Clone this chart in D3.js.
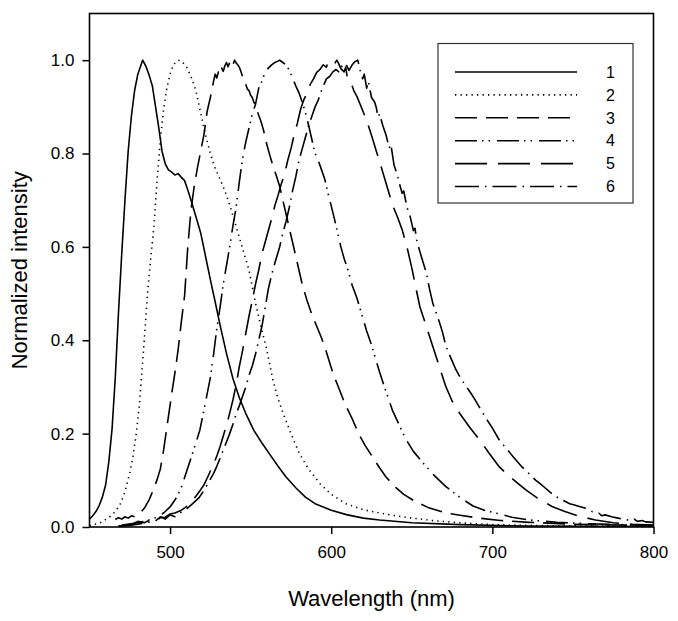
<!DOCTYPE html>
<html>
<head>
<meta charset="utf-8">
<script src="https://cdn.jsdelivr.net/npm/d3@7"></script>
<style>
  html, body { margin: 0; padding: 0; background: #fff; }
  svg { display: block; font-family: "Liberation Sans", Arial, sans-serif; }
</style>
</head>
<body>
<svg id="chart" width="678" height="621"></svg>
<script>
// ---------------- DATA ----------------
const xTicks = [500, 600, 700, 800];
const yTicks = [0, 0.2, 0.4, 0.6, 0.8, 1.0];
const seriesNames = ["1", "2", "3", "4", "5", "6"];

const series1 = [[450,0.017],[452,0.024],[454,0.033],[456,0.046],[458,0.064],[460,0.09],[462,0.14],[464,0.21],[466,0.32],[468,0.46],[470,0.585],[472,0.70],[474,0.805],[476,0.88],[478,0.935],[480,0.97],[482,0.99],[483,1.0],[485,0.987],[487,0.968],[489,0.945],[491,0.9],[493,0.855],[495,0.805],[497,0.778],[499,0.765],[501,0.76],[503,0.754],[505,0.757],[507,0.749],[509,0.742],[511,0.722],[513,0.7],[516,0.665],[519,0.63],[522,0.58],[525,0.53],[528,0.482],[531,0.433],[535,0.372],[539,0.318],[543,0.277],[547,0.243],[552,0.207],[557,0.18],[562,0.155],[567,0.13],[572,0.107],[578,0.084],[584,0.064],[590,0.05],[600,0.036],[610,0.026],[620,0.019],[630,0.015],[650,0.009],[680,0.005],[720,0.002],[800,0.001]];

const series2 = [[450,0.003],[456,0.008],[462,0.02],[466,0.033],[469,0.048],[472,0.075],[475,0.116],[477,0.152],[479,0.2],[481,0.262],[482,0.31],[484,0.4],[486,0.5],[488,0.575],[490,0.645],[492,0.745],[494,0.83],[496,0.895],[498,0.94],[500,0.97],[502,0.99],[505,1.0],[507,0.998],[510,0.987],[513,0.965],[516,0.935],[519,0.887],[522,0.84],[525,0.8],[528,0.768],[531,0.745],[534,0.72],[537,0.69],[540,0.655],[543,0.62],[546,0.585],[549,0.55],[553,0.48],[556,0.435],[560,0.38],[564,0.312],[567,0.275],[570,0.245],[575,0.2],[580,0.159],[586,0.124],[593,0.093],[600,0.07],[609,0.05],[620,0.037],[630,0.03],[640,0.024],[650,0.019],[665,0.013],[680,0.009],[700,0.005],[730,0.003],[800,0.001]];

const series3 = [[466,0.016],[468,0.02],[470,0.017],[472,0.022],[474,0.019],[476,0.024],[478,0.022],[480,0.028],[482,0.032],[484,0.04],[487,0.058],[490,0.083],[492,0.102],[494,0.125],[496,0.165],[498.5,0.225],[501,0.285],[503,0.33],[505,0.38],[507,0.44],[509,0.495],[511,0.6],[513,0.68],[515,0.73],[517,0.77],[519,0.805],[521,0.84],[523,0.89],[525,0.92],[527,0.955],[528,0.97],[529,0.962],[530,0.975],[531,0.97],[532,0.983],[533,0.976],[534,0.988],[535,0.995],[536,0.986],[537,0.995],[538,1.0],[539,0.99],[540,1.0],[541,0.994],[542,0.99],[543,0.985],[544,0.975],[545,0.965],[546,0.95],[547,0.948],[548,0.938],[549,0.935],[550,0.925],[551,0.92],[552,0.91],[553,0.905],[554,0.893],[555,0.882],[556,0.873],[557,0.862],[558,0.85],[559,0.835],[560,0.82],[562,0.795],[564,0.772],[566,0.752],[568,0.73],[570,0.7],[572,0.67],[574,0.64],[576,0.61],[578,0.58],[580,0.55],[582,0.52],[585,0.485],[588,0.455],[591,0.43],[594,0.405],[597,0.375],[601,0.33],[605,0.295],[609,0.26],[613,0.232],[617,0.2],[621,0.175],[626,0.148],[630,0.127],[634,0.107],[640,0.085],[645,0.07],[651,0.057],[660,0.042],[671,0.03],[680,0.025],[692,0.019],[705,0.014],[723,0.01],[750,0.006],[800,0.003]];

const series4 = [[470,0.004],[478,0.008],[485,0.013],[491,0.02],[496,0.03],[500,0.043],[504,0.063],[507,0.085],[510,0.116],[513,0.148],[516,0.18],[518.5,0.208],[521,0.25],[523,0.285],[525,0.32],[527,0.37],[529,0.425],[531,0.47],[533,0.52],[535,0.56],[537,0.6],[539,0.645],[541,0.685],[543,0.74],[545,0.79],[547,0.825],[549,0.855],[551,0.885],[553,0.905],[555,0.94],[557,0.955],[559,0.975],[561,0.983],[563,0.99],[565,0.995],[567,0.998],[568,1.0],[570,0.995],[572,0.99],[574,0.978],[576,0.962],[578,0.945],[580,0.93],[582,0.91],[584,0.888],[586,0.86],[588,0.83],[590,0.8],[592,0.785],[594,0.765],[596,0.745],[598,0.715],[600,0.688],[602,0.66],[604,0.63],[606,0.6],[608,0.575],[610,0.555],[613,0.518],[616,0.49],[619,0.455],[622,0.42],[625,0.39],[628,0.355],[630,0.332],[634,0.29],[638,0.25],[642,0.22],[646,0.19],[651,0.162],[657,0.137],[664,0.11],[671,0.087],[680,0.063],[688,0.045],[695,0.036],[702,0.03],[712,0.021],[723,0.015],[740,0.01],[760,0.007],[800,0.003]];

const series5 = [[468,0.002],[475,0.004],[480,0.012],[484,0.009],[488,0.016],[491,0.012],[494,0.02],[497,0.021],[500,0.028],[503,0.03],[507,0.036],[510,0.043],[513,0.053],[516,0.066],[519,0.08],[521,0.09],[524,0.112],[527,0.135],[529,0.152],[531,0.172],[533,0.195],[535,0.218],[537,0.244],[539,0.272],[541,0.305],[543,0.344],[545,0.378],[547,0.415],[549,0.452],[551,0.485],[553,0.52],[555,0.55],[557,0.585],[559,0.61],[561,0.635],[563,0.66],[565,0.688],[567,0.71],[569,0.735],[571,0.755],[573,0.785],[575,0.81],[577,0.84],[579,0.865],[581,0.895],[583,0.915],[585,0.93],[587,0.948],[589,0.96],[591,0.974],[593,0.98],[595,0.99],[597,0.985],[598,0.995],[600,0.988],[602,0.992],[603.5,1.0],[605,0.99],[606,0.982],[608,0.975],[609,0.985],[610,0.962],[612,0.955],[614,0.935],[616,0.922],[618,0.905],[620,0.888],[622,0.87],[624,0.85],[626,0.828],[628,0.805],[630,0.783],[632,0.76],[635,0.725],[638,0.69],[641,0.665],[644,0.637],[647,0.6],[650,0.555],[653,0.505],[655,0.472],[659,0.43],[663,0.387],[667,0.345],[671,0.302],[675,0.27],[680,0.242],[686,0.213],[692,0.187],[698,0.158],[704,0.13],[710,0.11],[716,0.093],[721,0.079],[728,0.062],[737,0.044],[745,0.033],[754,0.023],[764,0.015],[775,0.009],[787,0.006],[800,0.004]];

const series6 = [[468,0.002],[476,0.004],[485,0.009],[491,0.013],[494,0.022],[497,0.017],[500,0.026],[503,0.022],[506,0.03],[510,0.038],[514,0.05],[518,0.063],[521,0.078],[524,0.096],[527,0.115],[529,0.13],[531,0.147],[533,0.165],[535,0.182],[537,0.2],[539,0.22],[541,0.242],[543,0.26],[545,0.28],[547,0.3],[549,0.325],[551,0.345],[553,0.37],[555,0.4],[557,0.43],[559,0.47],[561,0.51],[563,0.54],[565,0.565],[568,0.6],[570,0.63],[572,0.655],[574,0.685],[576,0.72],[578,0.75],[580,0.785],[582,0.81],[584,0.835],[586,0.86],[588,0.88],[590,0.9],[592,0.915],[594,0.935],[596,0.952],[597,0.96],[599,0.965],[601,0.975],[603,0.98],[605,0.974],[607,0.99],[609,0.993],[611,0.978],[613,0.99],[614.5,0.996],[616.5,1.0],[618,0.978],[619.5,0.96],[620.5,0.97],[622,0.94],[623,0.955],[625,0.92],[627,0.91],[628,0.898],[629,0.878],[630,0.885],[632,0.86],[634,0.84],[636,0.812],[637,0.82],[639,0.775],[640.5,0.76],[642,0.74],[644,0.715],[645,0.72],[647,0.685],[649,0.665],[651,0.635],[652,0.64],[653,0.615],[655,0.59],[657,0.567],[659,0.545],[661,0.51],[663,0.48],[665,0.46],[667,0.44],[669,0.418],[671,0.39],[673,0.372],[675,0.356],[677,0.34],[679,0.327],[681,0.315],[683,0.305],[685,0.295],[687,0.285],[689,0.274],[691,0.262],[694,0.245],[697,0.228],[700,0.212],[702,0.2],[704,0.188],[707,0.175],[710,0.163],[713,0.15],[716,0.138],[718,0.13],[721,0.12],[724,0.11],[727,0.1],[730,0.092],[733,0.083],[736,0.074],[739,0.066],[742,0.06],[745,0.055],[748,0.05],[751,0.047],[754,0.044],[758,0.04],[762,0.033],[766,0.03],[768,0.024],[770,0.026],[774,0.022],[778,0.019],[782,0.016],[786,0.014],[788,0.017],[790,0.012],[793,0.014],[795,0.011],[800,0.01]];

// ---------------- CHART ----------------
const allSeries = [series1, series2, series3, series4, series5, series6];
const dashes = ["none", "1.3,4.2", "22,9", "22,5,1.5,5,1.5,7", "32,11", "24,6,1.5,6"];

const svg = d3.select("#chart");
const x = d3.scaleLinear().domain([450, 800]).range([89.5, 653.5]);
const y = d3.scaleLinear().domain([0, 1.1]).range([527, 13.5]);

svg.append("defs").append("clipPath").attr("id", "plotclip")
  .append("rect")
  .attr("x", x(450)).attr("y", y(1.1))
  .attr("width", x(800) - x(450)).attr("height", y(0) - y(1.1));

const line = d3.line().x(d => x(d[0])).y(d => y(d[1]));

const gLines = svg.append("g").attr("clip-path", "url(#plotclip)");
allSeries.forEach((s, i) => {
  gLines.append("path")
    .datum(s)
    .attr("d", line)
    .attr("fill", "none")
    .attr("stroke", "#000")
    .attr("stroke-width", 1.6)
    .attr("stroke-linejoin", "round")
    .attr("stroke-dasharray", dashes[i]);
});

// axes
const xAxis = svg.append("g")
  .attr("transform", `translate(0,${y(0)})`)
  .call(d3.axisBottom(x).tickValues(xTicks).tickSize(7).tickPadding(12).tickSizeOuter(0));
const yAxis = svg.append("g")
  .attr("transform", `translate(${x(450)},0)`)
  .call(d3.axisLeft(y).tickValues(yTicks).tickFormat(d3.format(".1f")).tickSize(7).tickPadding(8).tickSizeOuter(0));
[xAxis, yAxis].forEach(g => {
  g.select(".domain").remove();
  g.selectAll(".tick line").attr("stroke", "#000").attr("stroke-width", 1.5);
  g.selectAll(".tick text").attr("fill", "#000")
    .style("font-family", '"Liberation Sans", Arial, sans-serif')
    .style("font-size", "17px");
});

// frame
svg.append("rect")
  .attr("x", x(450)).attr("y", y(1.1))
  .attr("width", x(800) - x(450)).attr("height", y(0) - y(1.1))
  .attr("fill", "none").attr("stroke", "#000").attr("stroke-width", 1.6);

// axis titles
svg.append("text")
  .attr("x", (x(450) + x(800)) / 2).attr("y", 606)
  .attr("text-anchor", "middle")
  .style("font-size", "22px").attr("fill", "#000")
  .text("Wavelength (nm)");
svg.append("text")
  .attr("transform", `translate(27,${(y(0) + y(1.1)) / 2}) rotate(-90)`)
  .attr("text-anchor", "middle")
  .style("font-size", "22px").attr("fill", "#000")
  .text("Normalized intensity");

// legend
const lg = svg.append("g");
lg.append("rect")
  .attr("x", 438).attr("y", 43.5).attr("width", 195).attr("height", 159.5)
  .attr("fill", "#fff").attr("stroke", "#333").attr("stroke-width", 1.2);
seriesNames.forEach((name, i) => {
  const yy = 72 + i * 22.9;
  lg.append("line")
    .attr("x1", 455).attr("x2", 577).attr("y1", yy).attr("y2", yy)
    .attr("stroke", "#000").attr("stroke-width", 1.6)
    .attr("stroke-dasharray", dashes[i]);
  lg.append("text")
    .attr("x", 606).attr("y", yy).attr("dy", "0.36em")
    .style("font-size", "16px").attr("fill", "#000")
    .text(name);
});
</script>
</body>
</html>
